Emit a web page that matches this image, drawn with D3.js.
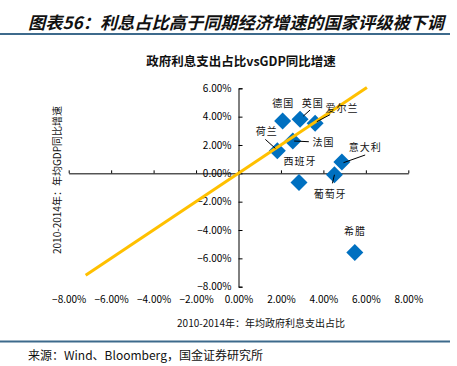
<!DOCTYPE html>
<html><head><meta charset="utf-8">
<script src="https://cdn.jsdelivr.net/npm/d3@7/dist/d3.min.js"></script>
<style>
body{margin:0;background:#fff;}
svg{display:block;}
text{font-family:"Noto Sans CJK SC","DejaVu Sans",sans-serif;}
</style></head>
<body><svg id="c" width="457" height="366"></svg>
<script>
// ---- data ----
const countries = ["德国","英国","爱尔兰","法国","荷兰","意大利","葡萄牙","西班牙","希腊"];
const interestShare = [2.08, 2.90, 3.61, 2.56, 1.83, 4.87, 4.52, 2.85, 5.48]; // x, %
const gdpGrowth = [3.69, 3.81, 3.53, 2.28, 1.59, 0.80, -0.10, -0.64, -5.58];   // y, %
const lineX = [-7.2, 6.05];
const lineY = [-7.2, 6.05];
const xTicks = [-8, -6, -4, -2, 0, 2, 4, 6, 8];
const yTicks = [-8, -6, -4, -2, 0, 2, 4, 6];

// ---- label layout (pixels, relative to point) ----
const labelLayout = {
  "德国":  {dx: 0.6, dy: -18.5},
  "英国":  {dx: 12.7, dy: -17, lead: [3.3, -3.3, 10, -9.3]},
  "爱尔兰": {dx: 27, dy: -16.3, lead: [1.7, -1.6, 15, -8.7]},
  "法国":  {dx: 30.6, dy: 0.5, lead: [1.3, 0, 16, 0.7]},
  "荷兰":  {dx: -10.6, dy: -20, lead: [-12, -11.4, -2, -2.4]},
  "意大利": {dx: 23.3, dy: -15.3, lead: [1.6, 0.7, 23.3, -7]},
  "葡萄牙": {dx: -4.3, dy: 18.6, lead: [-2, 8.6, 0, 0]},
  "西班牙": {dx: 1, dy: -21.6},
  "希腊":  {dx: 0.3, dy: -22.3}
};

const svg = d3.select("#c");
const fmt = v => d3.format(".2f")(v) + "%";

// header
svg.append("text").attr("x", 28).attr("y", 29)
  .attr("font-size", 17).attr("font-weight", "bold").attr("font-style", "italic")
  .attr("textLength", 416).attr("lengthAdjust", "spacingAndGlyphs")
  .attr("fill", "#111").text("图表56：利息占比高于同期经济增速的国家评级被下调");
svg.append("line").attr("x1", 0).attr("x2", 450).attr("y1", 34).attr("y2", 34)
  .attr("stroke", "#3d6a8c").attr("stroke-width", 2);
svg.append("line").attr("x1", 0).attr("x2", 450).attr("y1", 341.5).attr("y2", 341.5)
  .attr("stroke", "#3d6a8c").attr("stroke-width", 2);
svg.append("text").attr("x", 28).attr("y", 360).attr("font-size", 12).attr("fill", "#111")
  .text("来源：Wind、Bloomberg，国金证券研究所");

// chart title
svg.append("text").attr("x", 241).attr("y", 66).attr("text-anchor", "middle")
  .attr("font-size", 12.5).attr("font-weight", "bold").attr("fill", "#111")
  .text("政府利息支出占比vsGDP同比增速");

const x = d3.scaleLinear().domain([-8, 8]).range([68.7, 408.3]);
const y = d3.scaleLinear().domain([-8, 6]).range([286.7, 88.3]);

// x axis line through 0
const gx = svg.append("g").attr("transform", `translate(0,${y(0)})`)
  .call(d3.axisBottom(x).tickValues(xTicks).tickSizeInner(-3).tickSizeOuter(0).tickFormat(""));
gx.select(".domain").attr("stroke", "#000");
gx.selectAll(".tick line").attr("stroke", "#000");

// x tick labels at the bottom
const gxl = svg.append("g").attr("transform", `translate(0,${y(-8)})`)
  .call(d3.axisBottom(x).tickValues(xTicks).tickSize(0).tickPadding(9).tickFormat(fmt));
gxl.select(".domain").remove();
gxl.selectAll("text").attr("font-size", 10).attr("fill", "#000")
  .attr("font-family", "\"DejaVu Sans\",sans-serif");

// y axis through 0
const gy = svg.append("g").attr("transform", `translate(${x(0)},0)`)
  .call(d3.axisLeft(y).tickValues(yTicks).tickSizeInner(-4).tickSizeOuter(-4).tickPadding(7).tickFormat(fmt));
gy.select(".domain").attr("stroke", "#000");
gy.selectAll(".tick line").attr("stroke", "#000");
gy.selectAll("text").attr("font-size", 10).attr("fill", "#000")
  .attr("font-family", "\"DejaVu Sans\",sans-serif");

// axis titles
svg.append("text").attr("x", 261).attr("y", 327).attr("text-anchor", "middle")
  .attr("font-size", 10).attr("fill", "#111").text("2010-2014年：年均政府利息支出占比");
svg.append("text").attr("transform", "translate(61,180) rotate(-90)").attr("text-anchor", "middle")
  .attr("font-size", 10).attr("fill", "#111").text("2010-2014年：年均GDP同比增速");

// points
const pts = countries.map((c, i) => ({name: c, px: x(interestShare[i]), py: y(gdpGrowth[i])}));
svg.append("g").selectAll("path").data(pts).join("path")
  .attr("d", d => `M${d.px},${d.py - 8.5}L${d.px + 8.5},${d.py}L${d.px},${d.py + 8.5}L${d.px - 8.5},${d.py}Z`)
  .attr("fill", "#0070C0");

// trend line y = x
svg.append("path")
  .attr("d", d3.line().x(d => x(d[0])).y(d => y(d[1]))(lineX.map((v, i) => [v, lineY[i]])))
  .attr("stroke", "#FFC000").attr("stroke-width", 3).attr("fill", "none");

// leader lines
svg.append("g").selectAll("line").data(pts.filter(d => labelLayout[d.name].lead)).join("line")
  .attr("x1", d => d.px + labelLayout[d.name].lead[0]).attr("y1", d => d.py + labelLayout[d.name].lead[1])
  .attr("x2", d => d.px + labelLayout[d.name].lead[2]).attr("y2", d => d.py + labelLayout[d.name].lead[3])
  .attr("stroke", "#000").attr("stroke-width", 1);

// labels
svg.append("g").selectAll("text").data(pts).join("text")
  .attr("x", d => d.px + labelLayout[d.name].dx)
  .attr("y", d => d.py + labelLayout[d.name].dy)
  .attr("text-anchor", "middle").attr("dominant-baseline", "central")
  .attr("font-size", 10).attr("letter-spacing", 1).attr("fill", "#111")
  .text(d => d.name);
</script></body></html>
